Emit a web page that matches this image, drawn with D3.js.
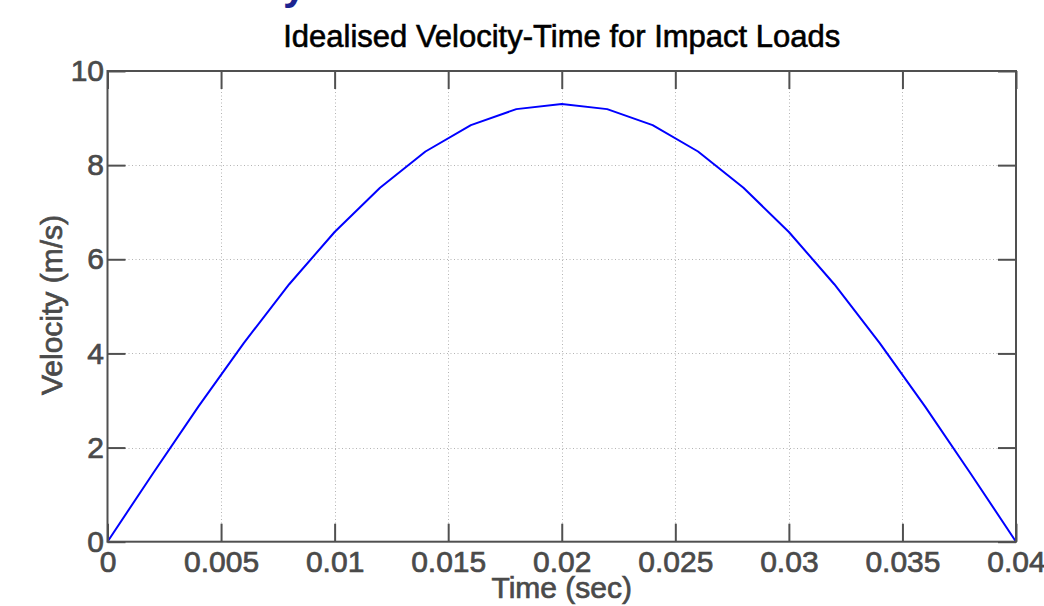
<!DOCTYPE html>
<html>
<head>
<meta charset="utf-8">
<script src="https://cdn.jsdelivr.net/npm/d3@7"></script>
<style>
  html, body { margin: 0; padding: 0; background: #fff; }
  svg { display: block; }
  text { font-family: "Liberation Sans", Arial, Helvetica, sans-serif; }
</style>
</head>
<body>
<svg id="chart" width="1044" height="606"></svg>
<script>
// ---- data ----
const timeValues = [0, 0.002, 0.004, 0.006, 0.008, 0.010, 0.012, 0.014, 0.016, 0.018, 0.020,
                    0.022, 0.024, 0.026, 0.028, 0.030, 0.032, 0.034, 0.036, 0.038, 0.040];
const velocityValues = [0, 1.45, 2.87, 4.22, 5.47, 6.58, 7.52, 8.29, 8.85, 9.19, 9.30,
                        9.19, 8.85, 8.29, 7.52, 6.58, 5.47, 4.22, 2.87, 1.45, 0];
const xTicks = [0, 0.005, 0.01, 0.015, 0.02, 0.025, 0.03, 0.035, 0.04];
const xTickLabels = ["0", "0.005", "0.01", "0.015", "0.02", "0.025", "0.03", "0.035", "0.04"];
const yTicks = [0, 2, 4, 6, 8, 10];
const yTickLabels = ["0", "2", "4", "6", "8", "10"];
const titleText = "Idealised Velocity-Time for Impact Loads";
const xLabelText = "Time (sec)";
const yLabelText = "Velocity (m/s)";

// ---- layout ----
const svg = d3.select("#chart");
const L = 107.5, R = 1016, T = 71, B = 541.7;
const axisColor = "#505050";
const textGray = "#4a4a4a";
const tickLen = 18;
const fontSize = 30;

const x = d3.scaleLinear().domain([0, 0.04]).range([L, R]);
const y = d3.scaleLinear().domain([0, 10]).range([B, T]);

// partially visible heading above (cropped)
svg.append("text")
  .attr("x", 283).attr("y", -1)
  .attr("font-size", 42).attr("font-weight", "bold")
  .attr("fill", "#1c2490")
  .text("y");

// grid
const grid = svg.append("g").attr("stroke", "#b4b4b4").attr("stroke-width", 1)
  .attr("stroke-dasharray", "1,2.5");
grid.selectAll("line.gx").data(xTicks.slice(1, -1)).join("line")
  .attr("x1", d => Math.round(x(d)) + 0.5).attr("x2", d => Math.round(x(d)) + 0.5)
  .attr("y1", T).attr("y2", B);
grid.selectAll("line.gy").data(yTicks.slice(1, -1)).join("line")
  .attr("y1", d => Math.round(y(d)) + 0.5).attr("y2", d => Math.round(y(d)) + 0.5)
  .attr("x1", L).attr("x2", R);

// data line
const line = d3.line().x((d, i) => x(timeValues[i])).y(d => y(d));
svg.append("path")
  .datum(velocityValues)
  .attr("d", line)
  .attr("fill", "none")
  .attr("stroke", "#0000ff")
  .attr("stroke-width", 2)
  .attr("stroke-linejoin", "round");

// axes
function styleAxis(g) {
  g.select(".domain").remove();
  g.selectAll(".tick line").attr("stroke", axisColor).attr("stroke-width", 2);
  g.selectAll(".tick text").attr("fill", textGray).attr("font-size", fontSize)
    .attr("stroke", textGray).attr("stroke-width", 0.7)
    .attr("font-family", "Liberation Sans, Arial, sans-serif");
}

svg.append("g").attr("transform", `translate(0,${B})`)
  .call(d3.axisBottom(x).tickValues(xTicks).tickFormat((d, i) => xTickLabels[i])
    .tickSize(-tickLen).tickPadding(9.5))
  .call(styleAxis);

svg.append("g").attr("transform", `translate(0,${T})`)
  .call(d3.axisTop(x).tickValues(xTicks).tickFormat("").tickSize(-tickLen))
  .call(styleAxis);

svg.append("g").attr("transform", `translate(${L},0)`)
  .call(d3.axisLeft(y).tickValues(yTicks).tickFormat((d, i) => yTickLabels[i])
    .tickSize(-tickLen).tickPadding(3.5))
  .call(styleAxis);

svg.append("g").attr("transform", `translate(${R},0)`)
  .call(d3.axisRight(y).tickValues(yTicks).tickFormat("").tickSize(-tickLen))
  .call(styleAxis);

// frame
svg.append("rect")
  .attr("x", L).attr("y", T).attr("width", R - L).attr("height", B - T)
  .attr("fill", "none").attr("stroke", axisColor).attr("stroke-width", 2);

// title
svg.append("text")
  .attr("x", (L + R) / 2).attr("y", 46.5)
  .attr("text-anchor", "middle").attr("font-size", 31)
  .attr("fill", "#000").attr("stroke", "#000").attr("stroke-width", 0.6)
  .text(titleText);

// x label
svg.append("text")
  .attr("x", (L + R) / 2).attr("y", 598)
  .attr("text-anchor", "middle").attr("font-size", fontSize)
  .attr("fill", textGray).attr("stroke", textGray).attr("stroke-width", 0.7)
  .text(xLabelText);

// y label
svg.append("text")
  .attr("transform", `translate(62,305) rotate(-90)`)
  .attr("text-anchor", "middle").attr("font-size", fontSize)
  .attr("fill", textGray).attr("stroke", textGray).attr("stroke-width", 0.7)
  .text(yLabelText);
</script>
</body>
</html>
